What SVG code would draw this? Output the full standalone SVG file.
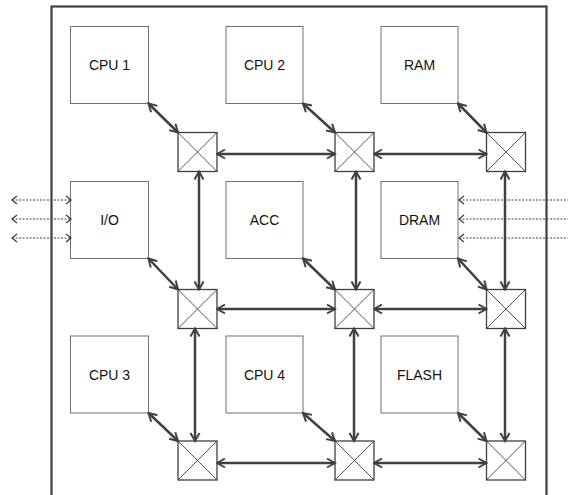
<svg xmlns="http://www.w3.org/2000/svg" width="568" height="495" viewBox="0 0 568 495">
<defs>
<style>
.frame{fill:none;stroke:#404040;stroke-width:2.2}
.node{fill:#fff;stroke:#707070;stroke-width:1}
.sw{fill:#fff;stroke:#404040;stroke-width:1.3}
.swx{stroke:#404040;stroke-width:0.9}
.lbl{font-family:"Liberation Sans",Arial,sans-serif;font-size:14px;fill:#111;text-anchor:middle}
.link{stroke:#404040;stroke-width:2.5;fill:none;marker-start:url(#ah);marker-end:url(#ah)}
.dot{stroke:#404040;stroke-width:1;stroke-dasharray:2,1.5;fill:none}
</style>
<marker id="ah" viewBox="0 0 12 12" refX="10.5" refY="6" markerWidth="12" markerHeight="12" markerUnits="userSpaceOnUse" orient="auto-start-reverse">
<path d="M2.5,1.5 L10.5,6 L2.5,10.5" fill="none" stroke="#404040" stroke-width="2"/>
</marker>
<marker id="dh" viewBox="0 0 10 10" refX="8" refY="5" markerWidth="10" markerHeight="10" markerUnits="userSpaceOnUse" orient="auto-start-reverse">
<path d="M3,1 L8,5 L3,9" fill="none" stroke="#404040" stroke-width="1.3"/>
</marker>
</defs>
<rect class="frame" x="51.5" y="6.5" width="495" height="500"/>
<g id="nodes">
<g id="cpu1"><rect class="node" x="70.5" y="26.5" width="78" height="77"/><text class="lbl" x="109.5" y="70">CPU 1</text></g>
<g id="cpu2"><rect class="node" x="226" y="26.5" width="77" height="77"/><text class="lbl" x="264.5" y="70">CPU 2</text></g>
<g id="ram"><rect class="node" x="381" y="26.5" width="77" height="77"/><text class="lbl" x="419.5" y="70">RAM</text></g>
<g id="io"><rect class="node" x="70.5" y="181.5" width="78" height="77"/><text class="lbl" x="109.5" y="225">I/O</text></g>
<g id="acc"><rect class="node" x="226" y="181.5" width="77" height="77"/><text class="lbl" x="264.5" y="225">ACC</text></g>
<g id="dram"><rect class="node" x="381" y="181.5" width="77" height="77"/><text class="lbl" x="419.5" y="225">DRAM</text></g>
<g id="cpu3"><rect class="node" x="70.5" y="336" width="78" height="77"/><text class="lbl" x="109.5" y="380">CPU 3</text></g>
<g id="cpu4"><rect class="node" x="226" y="336" width="77" height="77"/><text class="lbl" x="264.5" y="380">CPU 4</text></g>
<g id="flash"><rect class="node" x="381" y="336" width="77" height="77"/><text class="lbl" x="419.5" y="380">FLASH</text></g>
</g>
<g id="switches">
<g id="sw11"><rect class="sw" x="178" y="132.5" width="39" height="39"/><path class="swx" d="M178,132.5 L217,171.5 M217,132.5 L178,171.5"/></g>
<g id="sw12"><rect class="sw" x="335" y="132.5" width="39" height="39"/><path class="swx" d="M335,132.5 L374,171.5 M374,132.5 L335,171.5"/></g>
<g id="sw13"><rect class="sw" x="486.5" y="132.5" width="39" height="39"/><path class="swx" d="M486.5,132.5 L525.5,171.5 M525.5,132.5 L486.5,171.5"/></g>
<g id="sw21"><rect class="sw" x="178" y="289.5" width="39" height="39"/><path class="swx" d="M178,289.5 L217,328.5 M217,289.5 L178,328.5"/></g>
<g id="sw22"><rect class="sw" x="335" y="289.5" width="39" height="39"/><path class="swx" d="M335,289.5 L374,328.5 M374,289.5 L335,328.5"/></g>
<g id="sw23"><rect class="sw" x="486.5" y="289.5" width="39" height="39"/><path class="swx" d="M486.5,289.5 L525.5,328.5 M525.5,289.5 L486.5,328.5"/></g>
<g id="sw31"><rect class="sw" x="178" y="441" width="39" height="39"/><path class="swx" d="M178,441 L217,480 M217,441 L178,480"/></g>
<g id="sw32"><rect class="sw" x="335" y="441" width="39" height="39"/><path class="swx" d="M335,441 L374,480 M374,441 L335,480"/></g>
<g id="sw33"><rect class="sw" x="486.5" y="441" width="39" height="39"/><path class="swx" d="M486.5,441 L525.5,480 M525.5,441 L486.5,480"/></g>
</g>
<g id="connectors">
<line class="link" x1="148.5" y1="103.5" x2="178" y2="132.5"/>
<line class="link" x1="303" y1="103.5" x2="335" y2="132.5"/>
<line class="link" x1="458" y1="103.5" x2="486.5" y2="132.5"/>
<line class="link" x1="148.5" y1="258.5" x2="178" y2="289.5"/>
<line class="link" x1="303" y1="258.5" x2="335" y2="289.5"/>
<line class="link" x1="458" y1="258.5" x2="486.5" y2="289.5"/>
<line class="link" x1="148.5" y1="413" x2="178" y2="441"/>
<line class="link" x1="303" y1="413" x2="335" y2="441"/>
<line class="link" x1="458" y1="413" x2="486.5" y2="441"/>
<line class="link" x1="217" y1="154" x2="335" y2="154"/>
<line class="link" x1="374" y1="154" x2="486.5" y2="154"/>
<line class="link" x1="217" y1="309" x2="335" y2="309"/>
<line class="link" x1="374" y1="309" x2="486.5" y2="309"/>
<line class="link" x1="217" y1="463" x2="335" y2="463"/>
<line class="link" x1="374" y1="463" x2="486.5" y2="463"/>
<line class="link" x1="199" y1="171.5" x2="199" y2="289.5"/>
<line class="link" x1="195" y1="328.5" x2="195" y2="441"/>
<line class="link" x1="356" y1="171.5" x2="356" y2="289.5"/>
<line class="link" x1="354" y1="328.5" x2="354" y2="441"/>
<line class="link" x1="505" y1="171.5" x2="505" y2="289.5"/>
<line class="link" x1="505" y1="328.5" x2="505" y2="441"/>
<line class="dot" x1="12" y1="200" x2="71" y2="200" marker-start="url(#dh)" marker-end="url(#dh)"/>
<line class="dot" x1="12" y1="219" x2="71" y2="219" marker-start="url(#dh)" marker-end="url(#dh)"/>
<line class="dot" x1="12" y1="238" x2="71" y2="238" marker-start="url(#dh)" marker-end="url(#dh)"/>
<line class="dot" x1="459" y1="200" x2="570" y2="200" marker-start="url(#dh)"/>
<line class="dot" x1="459" y1="219" x2="570" y2="219" marker-start="url(#dh)"/>
<line class="dot" x1="459" y1="238" x2="570" y2="238" marker-start="url(#dh)"/>
</g>
</svg>
